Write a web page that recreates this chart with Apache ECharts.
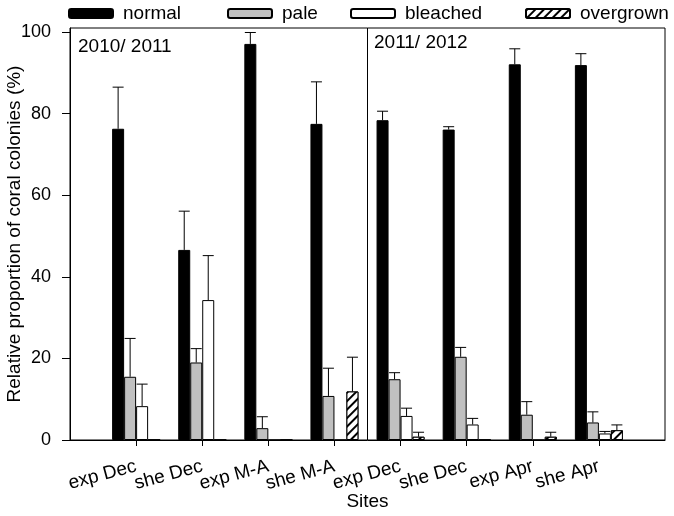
<!DOCTYPE html>
<html>
<head>
<meta charset="utf-8">
<script src="https://cdn.jsdelivr.net/npm/echarts@6/dist/echarts.min.js"></script>
<style>
html,body{margin:0;padding:0;background:#fff;}
#chart{width:674px;height:516px;}
</style>
</head>
<body>
<div id="chart"></div>
<script>
// ---- data ----
var sites = ['exp Dec', 'she Dec', 'exp M-A', 'she M-A', 'exp Dec', 'she Dec', 'exp Apr', 'she Apr'];
var yTicks = [0, 20, 40, 60, 80, 100];
var periods = ['2010/ 2011', '2011/ 2012'];
var seriesNames = ['normal', 'pale', 'bleached', 'overgrown'];

var normalVals   = [76.3, 46.6, 97.1, 77.5, 78.4, 76.1, 92.1, 91.9];
var normalErrTop = [86.5, 56.1, 99.9, 87.8, 80.6, 76.8, 95.9, 94.7];

var paleVals     = [15.5, 19.0, 2.9, 10.8, 14.9, 20.4, 6.2, 4.3];
var paleErrTop   = [24.9, 22.4, 5.7, 17.6, 16.5, 22.7, 9.4, 6.9];

var bleachedVals   = [8.3, 34.3, 0, 0, 5.9, 3.8, 0, 1.6];
var bleachedErrTop = [13.7, 45.2, 0, 0, 7.8, 5.3, 0, 2.1];

var overgrownVals   = [0, 0, 0, 11.9, 0.8, 0, 0.8, 2.4];
var overgrownErrTop = [0, 0, 0, 20.3, 1.9, 0, 1.9, 3.7];

// ---- build ----
var FONT = 'Liberation Sans, Arial, sans-serif';
var BW = 12;
// category axis has an empty slot on each side so the 8 sites sit at positions 1..8 of 0..9
var cats = [''].concat(sites, ['']);
var catPos = sites.map(function (s, i) { return i + 1; });

function padded(vals) { return [null].concat(vals, [null]); }
function triples(vals, tops) { return vals.map(function (v, i) { return [catPos[i], v, tops[i]]; }); }

var hatch = {
  symbol: 'rect', symbolSize: 1, color: '#000', backgroundColor: '#fff',
  dashArrayX: [1, 0], dashArrayY: [1.5, 3.2], rotation: -Math.PI / 4
};

var styles = [
  { color: '#000', borderColor: '#000', borderWidth: 1 },
  { color: '#c0c0c0', borderColor: '#000', borderWidth: 1 },
  { color: '#fff', borderColor: '#000', borderWidth: 1 },
  { color: '#fff', borderColor: '#000', borderWidth: 1, decal: hatch }
];
var valsList = [normalVals, paleVals, bleachedVals, overgrownVals];
var topsList = [normalErrTop, paleErrTop, bleachedErrTop, overgrownErrTop];

var series = [];
seriesNames.forEach(function (name, k) {
  series.push({
    name: name, type: 'bar', barWidth: BW, barGap: '0%',
    xAxisIndex: 0, itemStyle: styles[k], data: padded(valsList[k]), z: 2, silent: true
  });
});

seriesNames.forEach(function (name, k) {
  var off = (k - 1.5) * BW;
  var s = {
    type: 'custom', z: 3, silent: true, xAxisIndex: 1,
    encode: { x: 0, y: [1, 2] },
    data: triples(valsList[k], topsList[k]),
    renderItem: function (params, api) {
      var v = api.value(1), t = api.value(2);
      if (!(t > v)) return null;
      var p0 = api.coord([api.value(0), v]);
      var p1 = api.coord([api.value(0), t]);
      var x = p0[0] + off;
      var st = { stroke: '#000', lineWidth: 1 };
      return {
        type: 'group', children: [
          { type: 'line', shape: { x1: x, y1: p0[1], x2: x, y2: p1[1] }, style: st },
          { type: 'line', shape: { x1: x - 5.5, y1: p1[1], x2: x + 5.5, y2: p1[1] }, style: st }
        ]
      };
    }
  };
  if (k === 0) {
    s.markLine = {
      silent: true, symbol: 'none', label: { show: false },
      lineStyle: { color: '#000', width: 1, type: 'solid' },
      data: [{ xAxis: 4.5 }]
    };
  }
  series.push(s);
});

var legendLefts = [68, 227, 350, 525];
var legends = seriesNames.map(function (n, k) {
  return {
    data: [n], left: legendLefts[k], top: 4, padding: 0,
    itemWidth: 44, itemHeight: 9, selectedMode: false,
    textStyle: { fontFamily: FONT, fontSize: 19, color: '#000', padding: [0, 0, 0, 5] }
  };
});

var chart = echarts.init(document.getElementById('chart'), null, { renderer: 'canvas' });
chart.setOption({
  animation: false,
  backgroundColor: '#fff',
  legend: legends,
  grid: {
    left: 70, right: 9, top: 28, bottom: 76, show: true,
    borderColor: '#000', borderWidth: 1, containLabel: false, outerBoundsMode: 'none'
  },
  xAxis: [{
    type: 'category', data: cats, boundaryGap: false,
    name: 'Sites', nameLocation: 'middle', nameGap: 52, nameMoveOverlap: false,
    nameTextStyle: { fontFamily: FONT, fontSize: 19, color: '#000' },
    axisLine: { show: true, lineStyle: { color: '#000', width: 1 } },
    axisTick: {
      show: true, length: 6, lineStyle: { color: '#000' },
      interval: function (idx) { return idx >= 1 && idx <= sites.length; }
    },
    axisLabel: {
      interval: 0, rotate: 15, margin: 26, hideOverlap: false,
      fontFamily: FONT, fontSize: 19, color: '#000'
    },
    splitLine: { show: false }
  }, {
    type: 'value', min: 0, max: sites.length + 1, show: false
  }],
  yAxis: {
    type: 'value', min: 0, max: 101,
    name: 'Relative proportion of coral colonies (%)', nameLocation: 'middle', nameGap: 46,
    nameMoveOverlap: false,
    nameTextStyle: { fontFamily: FONT, fontSize: 19, color: '#000' },
    axisLine: { show: true, lineStyle: { color: '#000', width: 1 } },
    axisTick: { show: true, length: 8, customValues: yTicks, lineStyle: { color: '#000' } },
    axisLabel: { customValues: yTicks, margin: 19, fontFamily: FONT, fontSize: 18, color: '#000' },
    splitLine: { show: false }
  },
  graphic: [
    { type: 'text', x: 78, y: 47, style: { text: periods[0], fontFamily: FONT, fontSize: 19, fill: '#000', verticalAlign: 'middle' } },
    { type: 'text', x: 374, y: 42.5, style: { text: periods[1], fontFamily: FONT, fontSize: 19, fill: '#000', verticalAlign: 'middle' } }
  ],
  series: series
});
</script>
</body>
</html>
